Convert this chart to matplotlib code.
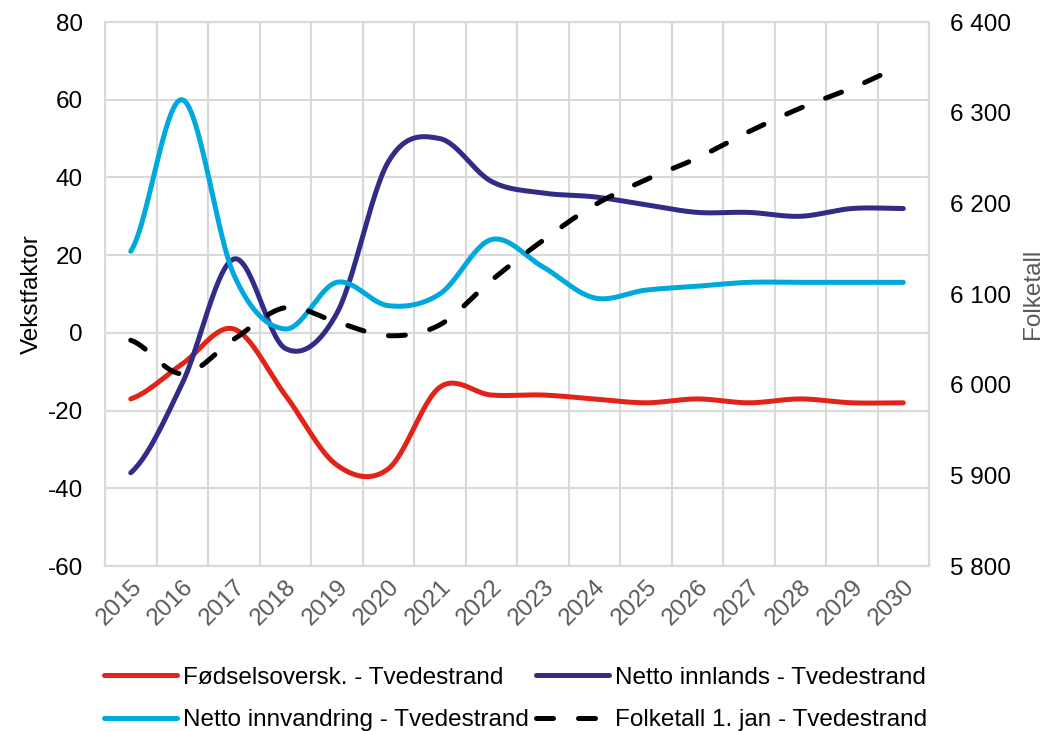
import numpy as np
import matplotlib.pyplot as plt
from matplotlib.ticker import FuncFormatter

plt.rcParams['font.family'] = ['Liberation Sans', 'DejaVu Sans']
plt.rcParams['axes.unicode_minus'] = False

years = [str(y) for y in range(2015, 2031)]
fodselsoverskudd = [-17, -8, 1, -16, -34, -35, -14, -16, -16, -17, -18, -17, -18, -17, -18, -18]
netto_innlands = [-36, -13, 19, -4, 5, 44, 50, 39, 36, 35, 33, 31, 31, 30, 32, 32]
netto_innvandring = [21, 60, 15, 1, 13, 7, 10, 24, 17, 9, 11, 12, 13, 13, 13, 13]
folketall = [6049, 6012, 6050, 6085, 6069, 6054, 6066, 6115, 6159, 6198, 6226, 6250, 6279, 6305, 6327, 6350]


def smooth(vals, steps=30):
    # catmull-rom, like the smoothed lines in Excel
    p = np.asarray(vals, float)
    pad = np.concatenate([[p[0]], p, [p[-1]]])
    xs, ys = [], []
    t = np.linspace(0, 1, steps, endpoint=False)
    for i in range(len(p) - 1):
        p0, p1 = pad[i + 1], pad[i + 2]
        m0 = (pad[i + 2] - pad[i]) / 2
        m1 = (pad[i + 3] - pad[i + 1]) / 2
        h00 = 2 * t**3 - 3 * t**2 + 1
        h10 = t**3 - 2 * t**2 + t
        h01 = -2 * t**3 + 3 * t**2
        h11 = t**3 - t**2
        xs.extend(i + t)
        ys.extend(h00 * p0 + h10 * m0 + h01 * p1 + h11 * m1)
    xs.append(len(p) - 1)
    ys.append(p[-1])
    return np.array(xs), np.array(ys)


fig = plt.figure(figsize=(10.48, 7.31), dpi=100)
ax = fig.add_axes([0.1002, 0.2257, 0.7863, 0.7442])
ax2 = ax.twinx()

fs = 17.5
lw = 5 * 72 / 100
red = '#E2231A'
navy = '#322C87'
cyan = '#00A9DC'

x, y = smooth(fodselsoverskudd)
l1, = ax.plot(x, y, color=red, lw=lw, solid_capstyle='round', label='Fødselsoversk. - Tvedestrand')
x, y = smooth(netto_innlands)
l2, = ax.plot(x, y, color=navy, lw=lw, solid_capstyle='round', label='Netto innlands - Tvedestrand')
x, y = smooth(netto_innvandring)
l3, = ax.plot(x, y, color=cyan, lw=lw, solid_capstyle='round', label='Netto innvandring - Tvedestrand')
x, y = smooth(folketall)
l4, = ax2.plot(x, y, color='black', lw=lw, dashes=(3.4, 5.0), dash_capstyle='round',
               label='Folketall 1. jan - Tvedestrand')

ax.set_xlim(-0.5, len(years) - 0.5)
ax.set_ylim(-60, 80)
ax.set_yticks(range(-60, 81, 20))
ax2.set_ylim(5800, 6400)
ax2.set_yticks(range(5800, 6401, 100))
ax2.yaxis.set_major_formatter(FuncFormatter(lambda v, p: f'{int(v):,}'.replace(',', ' ')))

ax.set_xticks(range(len(years)))
ax.set_xticklabels(years, rotation=45, ha='right', va='top', rotation_mode='anchor',
                   color='#595959', fontsize=fs)
ax.set_xticks(np.arange(-0.5, len(years), 1), minor=True)

grid = '#D9D9D9'
ax.grid(True, which='minor', axis='x', color=grid, lw=1.5)
ax.grid(True, which='major', axis='y', color=grid, lw=1.5)
ax.set_axisbelow(True)
for a in (ax, ax2):
    for s in a.spines.values():
        s.set_color(grid)
        s.set_linewidth(1.5)
    a.tick_params(which='both', length=0)
ax.tick_params(axis='x', pad=7)
ax.tick_params(axis='y', labelsize=fs, pad=16)
ax2.tick_params(axis='y', labelsize=fs, pad=15)

ax.set_ylabel('Vekstfaktor', fontsize=fs, labelpad=3)
ax2.set_ylabel('Folketall', fontsize=fs, color='#595959', labelpad=8)

fig.legend(handles=[l1, l3, l2, l4], loc='lower center', bbox_to_anchor=(0.492, -0.03),
           ncol=2, frameon=False, fontsize=fs, handlelength=3.0, handletextpad=0.25,
           columnspacing=0.3, labelspacing=0.83)

fig.savefig('out.png', dpi=100)
